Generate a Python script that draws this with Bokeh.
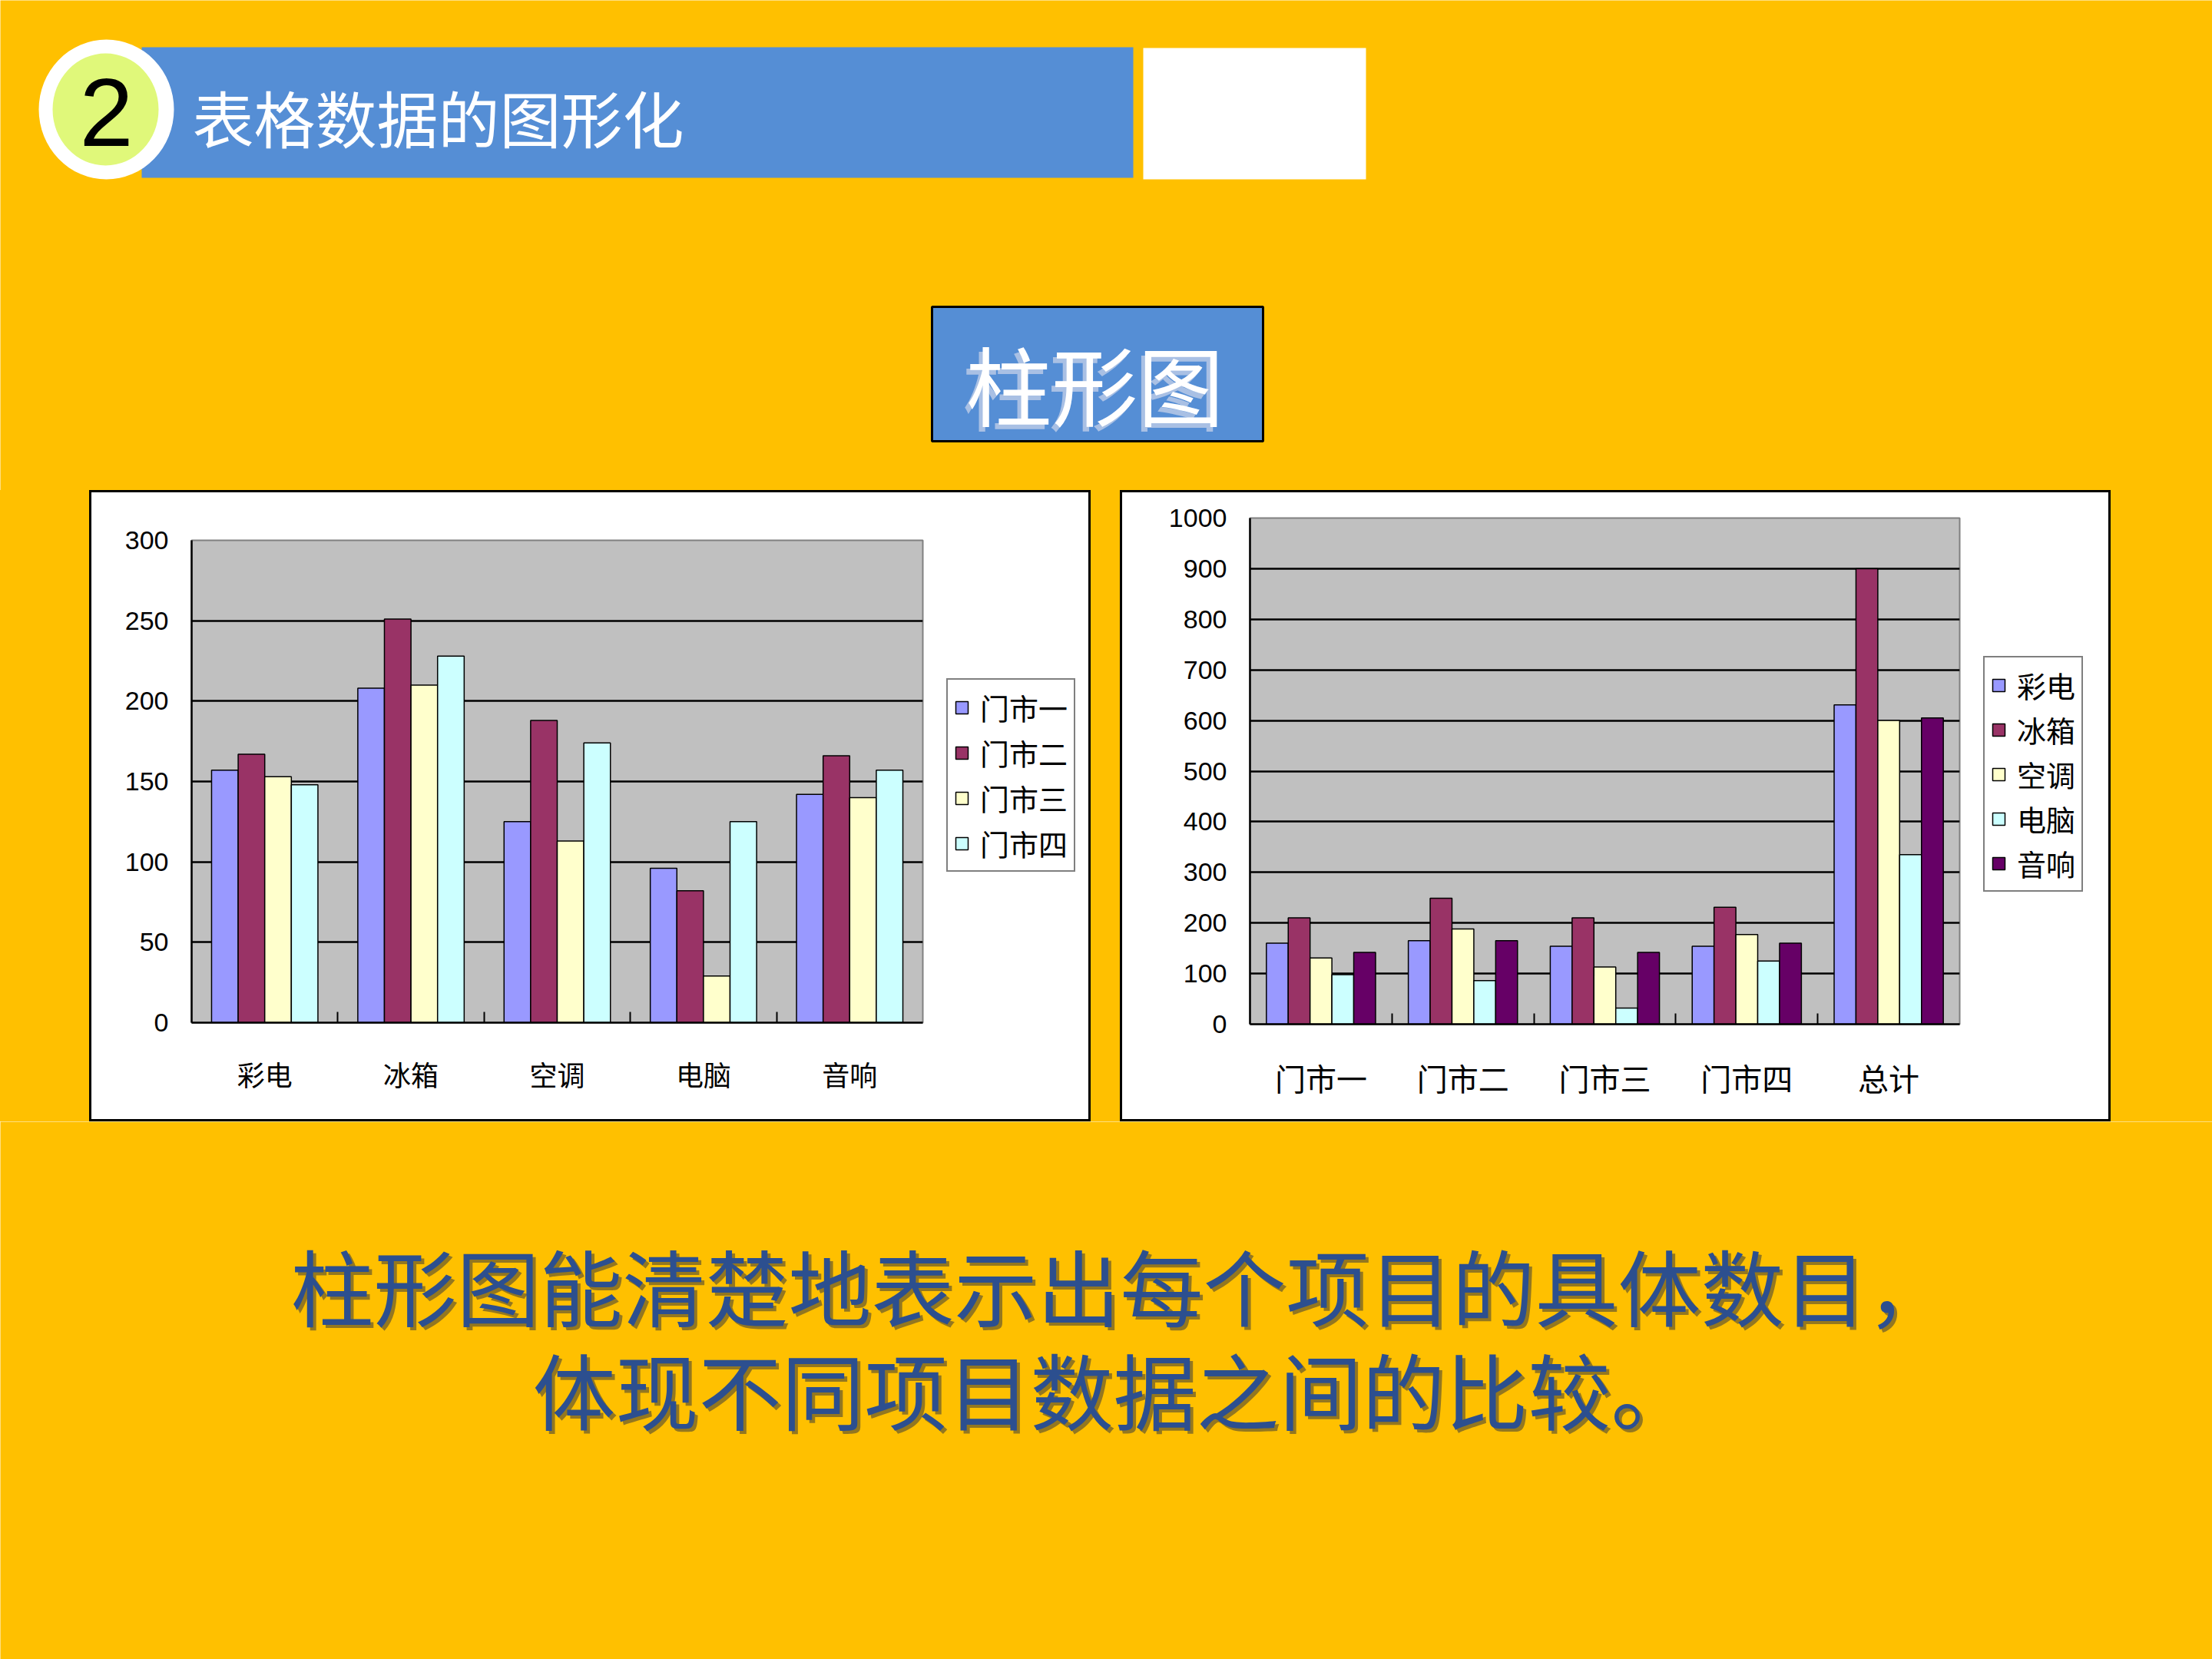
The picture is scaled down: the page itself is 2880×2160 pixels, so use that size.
from bokeh.plotting import figure
from bokeh.models import Range1d, FixedTicker, Legend, LegendItem, ColumnDataSource, Spacer
from bokeh.layouts import column, row
from bokeh.embed import file_html
from bokeh.resources import INLINE
from bokeh.core.properties import value

BG = "#FFC000"
CJK = "Noto Sans CJK SC"

# ---------------- data ----------------
products = ["彩电", "冰箱", "空调", "电脑", "音响"]
stores = ["门市一", "门市二", "门市三", "门市四"]
right_categories = ["门市一", "门市二", "门市三", "门市四", "总计"]

left_y_ticks = [0, 50, 100, 150, 200, 250, 300]
right_y_ticks = [0, 100, 200, 300, 400, 500, 600, 700, 800, 900, 1000]

# left chart: one series per store, values per product
store1 = [157, 208, 125, 96, 142]
store2 = [167, 251, 188, 82, 166]
store3 = [153, 210, 113, 29, 140]
store4 = [148, 228, 174, 125, 157]

# right chart: one series per product, values per store + total
prod1 = [160, 165, 154, 154, 631]
prod2 = [210, 249, 210, 231, 900]
prod3 = [131, 188, 113, 177, 600]
prod4 = [98, 86, 32, 125, 335]
prod5 = [142, 165, 142, 160, 605]

left_colors = ["#9999FF", "#993366", "#FFFFCC", "#CCFFFF"]
right_colors = ["#9999FF", "#993366", "#FFFFCC", "#CCFFFF", "#660066"]


def block(w, h, color):
    return Spacer(width=w, height=h, styles={"background-color": color})


def plain_fig(width, height, x0, x1, y0, y1, color):
    p = figure(width=width, height=height, x_range=Range1d(x0, x1), y_range=Range1d(y1, y0),
               output_backend="svg", toolbar_location=None,
               x_axis_location=None, y_axis_location=None,
               min_border=0, min_border_left=0, min_border_right=0,
               min_border_top=0, min_border_bottom=0)
    p.background_fill_color = color
    p.border_fill_color = color
    p.outline_line_color = None
    p.grid.grid_line_color = None
    return p


def bar_chart(width, height, bl, br, bt, bb, ymax, yticks, xlabels, series, colors, xfont):
    p = figure(width=width, height=height, x_range=Range1d(0.5, 5.5), y_range=Range1d(0, ymax),
               output_backend="svg", toolbar_location=None,
               min_border_left=bl, min_border_right=br, min_border_top=bt, min_border_bottom=bb)
    p.background_fill_color = "#C0C0C0"
    p.border_fill_color = "white"
    p.outline_line_color = "#808080"
    p.outline_line_width = 2

    n = len(series)
    w = 1.0 / (n + 1.5)
    for j, (vals, col) in enumerate(zip(series, colors)):
        off = (j - (n - 1) / 2.0) * w
        src = ColumnDataSource(dict(x=[i + 1 + off for i in range(len(vals))], top=vals))
        p.vbar(x="x", top="top", bottom=0, width=w, source=src,
               fill_color=col, line_color="black", line_width=1.5)

    # y axis
    p.yaxis.ticker = FixedTicker(ticks=yticks)
    p.yaxis.major_label_text_font_size = "34px"
    p.yaxis.major_label_text_font = "Liberation Sans"
    p.yaxis.major_label_text_color = "black"
    p.yaxis.major_tick_in = 0
    p.yaxis.major_tick_out = 0
    p.yaxis.minor_tick_line_color = None
    p.yaxis.axis_line_width = 2.5
    p.yaxis.axis_line_color = "black"
    p.yaxis.major_label_standoff = 30
    p.ygrid.ticker = FixedTicker(ticks=yticks[1:-1])
    p.ygrid.grid_line_color = "black"
    p.ygrid.grid_line_width = 2.5
    p.xgrid.grid_line_color = None

    # x axis
    p.xaxis.ticker = FixedTicker(ticks=[1, 2, 3, 4, 5], minor_ticks=[1.5, 2.5, 3.5, 4.5])
    p.xaxis.major_label_overrides = {i + 1: lab for i, lab in enumerate(xlabels)}
    p.xaxis.major_label_text_font = CJK
    p.xaxis.major_label_text_font_size = xfont
    p.xaxis.major_label_text_color = "black"
    p.xaxis.major_tick_in = 0
    p.xaxis.major_tick_out = 0
    p.xaxis.minor_tick_in = 14
    p.xaxis.minor_tick_out = 0
    p.xaxis.minor_tick_line_color = "black"
    p.xaxis.minor_tick_line_width = 2
    p.xaxis.axis_line_width = 2.5
    p.xaxis.axis_line_color = "black"
    p.xaxis.major_label_standoff = 40
    return p


def legend_fig(width, height, names, colors, loc, spacing):
    p = plain_fig(width, height, 0, 1, 0, 1, "white")
    items = []
    for name, col in zip(names, colors):
        # a small bar hidden beneath the legend box, so that the legend has a glyph to draw
        r = p.vbar(x=[0.5], top=[0.45], bottom=[0.55], width=0.1,
                   fill_color=col, line_color="black", line_width=1.5)
        items.append(LegendItem(label=name, renderers=[r]))
    leg = Legend(items=items, location=loc)
    leg.border_line_color = "black"
    leg.border_line_width = 2.5
    leg.background_fill_color = "white"
    leg.background_fill_alpha = 1
    leg.label_text_font = CJK
    leg.label_text_font_size = "38px"
    leg.label_text_color = "black"
    leg.glyph_width = 20
    leg.glyph_height = 20
    leg.label_standoff = 14
    leg.label_height = 34
    leg.spacing = spacing
    leg.padding = 8
    leg.margin = 0
    p.add_layout(leg)
    return p


def framed(inner, w, h, t=3):
    return column(block(w, t, "black"),
                  row(block(t, h - 2 * t, "black"), inner, block(t, h - 2 * t, "black"), spacing=0),
                  block(w, t, "black"), spacing=0)


# ---------------- header ----------------
top = plain_fig(2880, 638, 0, 2880, 0, 638, BG)
top.quad(left=[184], right=[1475], top=[61], bottom=[231], fill_color="#558ED5", line_color=None)
top.quad(left=[1488], right=[1778], top=[62], bottom=[233], fill_color="white", line_color=None)
top.ellipse(x=[138], y=[142], width=[176], height=[182], fill_color="white", line_color=None)
top.ellipse(x=[137], y=[142], width=[138], height=[146], fill_color="#E0F87A", line_color=None)
top.text(x=[138], y=[146], text=["2"], text_font=value("Liberation Sans"), text_font_size="126px",
         text_align="center", text_baseline="middle", text_color="black")
top.text(x=[250], y=[150], text=["表格数据的图形化"], text_font=value(CJK), text_font_size="80px",
         text_align="left", text_baseline="middle", text_color="white")
top.quad(left=[1213], right=[1644], top=[399], bottom=[574], fill_color="#558ED5",
         line_color="black", line_width=3)
top.text(x=[1420], y=[503], text=["柱形图"], text_font=value(CJK), text_font_size="112px",
         text_align="center", text_baseline="middle", text_color="#A9C0E4")
top.text(x=[1425], y=[497], text=["柱形图"], text_font=value(CJK), text_font_size="112px",
         text_align="center", text_baseline="middle", text_color="white")

# ---------------- charts ----------------
# left chart interior: x 119..1417, y 641..1457 ; frame x 249..1201, y 703..1331
left_chart = bar_chart(1097, 816, 130, 15, 62, 126, 300, left_y_ticks, products,
                       [store1, store2, store3, store4], left_colors, "36px")
left_leg = legend_fig(201, 816, stores, left_colors, (16, 196), 4)
left_block = framed(row(left_chart, left_leg, spacing=0), 1304, 822)

# right chart interior: x 1461..2745, y 641..1457 ; frame x 1627..2551, y 674..1333
right_chart = bar_chart(1105, 816, 166, 15, 33, 124, 1000, right_y_ticks, right_categories,
                        [prod1, prod2, prod3, prod4, prod5], right_colors, "40px")
right_leg = legend_fig(179, 816, products, right_colors, (16, 172), 3)
right_block = framed(row(right_chart, right_leg, spacing=0), 1290, 822)

middle = row(block(116, 822, BG), left_block, block(38, 822, BG),
             right_block, block(132, 822, BG), spacing=0)

# ---------------- bottom text ----------------
bottom = plain_fig(2880, 700, 0, 2880, 1460, 2160, BG)
lines = ["柱形图能清楚地表示出每个项目的具体数目，", "体现不同项目数据之间的比较。"]
bottom.text(x=[1462, 1453], y=[1675, 1810], text=lines, text_font=value(CJK), text_font_size="108px",
            text_align="center", text_baseline="middle", text_color="#3A3A3A", text_alpha=0.55)
bottom.text(x=[1458, 1449], y=[1671, 1806], text=lines, text_font=value(CJK), text_font_size="108px",
            text_align="center", text_baseline="middle", text_color="#2C4F8F")

layout = column(top, middle, bottom, spacing=0)
open("out.html", "w").write(file_html(layout, INLINE))
